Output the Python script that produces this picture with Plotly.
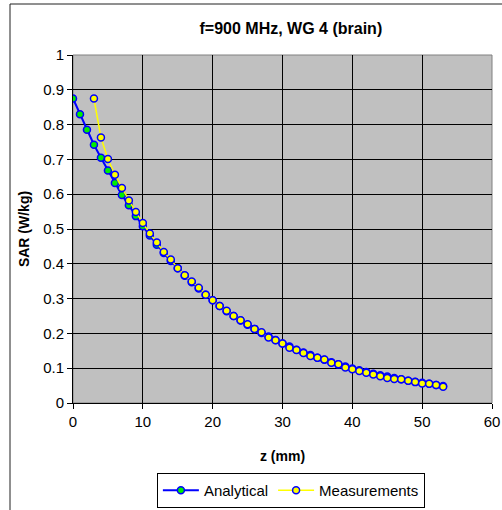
import plotly.graph_objects as go

z_analytical = list(range(0, 54))
sar_analytical = [0.875, 0.830, 0.785, 0.742, 0.705, 0.668, 0.632, 0.598, 0.568, 0.537,
                  0.508, 0.481, 0.455, 0.431, 0.408, 0.387, 0.366, 0.347, 0.329, 0.311,
                  0.295, 0.279, 0.264, 0.250, 0.237, 0.225, 0.213, 0.201, 0.191, 0.181,
                  0.171, 0.162, 0.153, 0.145, 0.138, 0.130, 0.124, 0.117, 0.111, 0.105,
                  0.099, 0.094, 0.089, 0.084, 0.080, 0.076, 0.072, 0.068, 0.064, 0.061,
                  0.058, 0.055, 0.052, 0.049]

z_meas = list(range(3, 54))
sar_meas = [0.875, 0.763, 0.701, 0.656, 0.618, 0.582, 0.549, 0.517, 0.487, 0.461,
            0.434, 0.412, 0.387, 0.367, 0.349, 0.331, 0.311, 0.295, 0.279, 0.265,
            0.250, 0.238, 0.226, 0.213, 0.203, 0.188, 0.180, 0.171, 0.159, 0.152,
            0.144, 0.135, 0.130, 0.125, 0.116, 0.111, 0.102, 0.097, 0.092, 0.087,
            0.082, 0.077, 0.072, 0.069, 0.068, 0.064, 0.060, 0.056, 0.055, 0.052,
            0.047]

FONT = "Liberation Sans, Arial, sans-serif"

fig = go.Figure()
fig.add_trace(go.Scatter(
    x=z_analytical, y=sar_analytical, name="Analytical", mode="lines+markers",
    line=dict(color="#0000FF", width=2),
    marker=dict(symbol="circle", size=7, color="#00EE00", line=dict(color="#0000FF", width=1.5)),
))
fig.add_trace(go.Scatter(
    x=z_meas, y=sar_meas, name="Measurements", mode="lines+markers",
    line=dict(color="#FFFF00", width=1.5),
    marker=dict(symbol="circle", size=7, color="#FFFF00", line=dict(color="#0000FF", width=1.5)),
))

fig.update_layout(
    width=502, height=510, autosize=False,
    margin=dict(l=73, r=10, t=55, b=107, autoexpand=False),
    paper_bgcolor="white",
    plot_bgcolor="#C0C0C0",
    font=dict(family=FONT, size=15, color="black"),
    title=dict(text="<b>f=900 MHz, WG 4 (brain)</b>", x=0.52, xref="paper", xanchor="center",
               y=1 - 28 / 510, yanchor="middle", font=dict(size=16, family=FONT)),
    showlegend=True,
    legend=dict(orientation="h", x=0.52, xanchor="center", y=-0.201, yanchor="top",
                bgcolor="white", bordercolor="black", borderwidth=1,
                font=dict(size=15, family=FONT), itemwidth=36, tracegroupgap=0),
    shapes=[
        dict(type="rect", xref="paper", yref="paper", x0=0, x1=1, y0=0, y1=1,
             line=dict(color="#808080", width=1), layer="below"),
        dict(type="rect", xref="paper", yref="paper", x0=(10 - 73) / 419, x1=1.1,
             y0=-0.4, y1=(403 - 4) / 348, line=dict(color="#202020", width=1), layer="below"),
    ],
)
fig.update_xaxes(
    range=[0, 60], dtick=10, tick0=0, showgrid=True, gridcolor="black", gridwidth=1,
    showline=True, linecolor="black", linewidth=1, zeroline=False, automargin=False,
    ticks="outside", ticklen=5, tickcolor="black",
    title=dict(text="<b>z (mm)</b>", font=dict(size=14, family=FONT), standoff=22),
)
fig.update_yaxes(
    range=[0, 1], dtick=0.1, tick0=0, showgrid=True, gridcolor="black", gridwidth=1,
    showline=True, linecolor="black", linewidth=1, zeroline=False, automargin=False,
    ticks="outside", ticklen=5, tickcolor="black",
    title=dict(text="<b>SAR (W/kg)</b>", font=dict(size=14, family=FONT), standoff=10),
)

fig.write_html(
    "out.html",
    config={"displayModeBar": False, "responsive": False},
    post_script="document.body.style.margin='0';document.body.style.overflow='hidden';",
)
